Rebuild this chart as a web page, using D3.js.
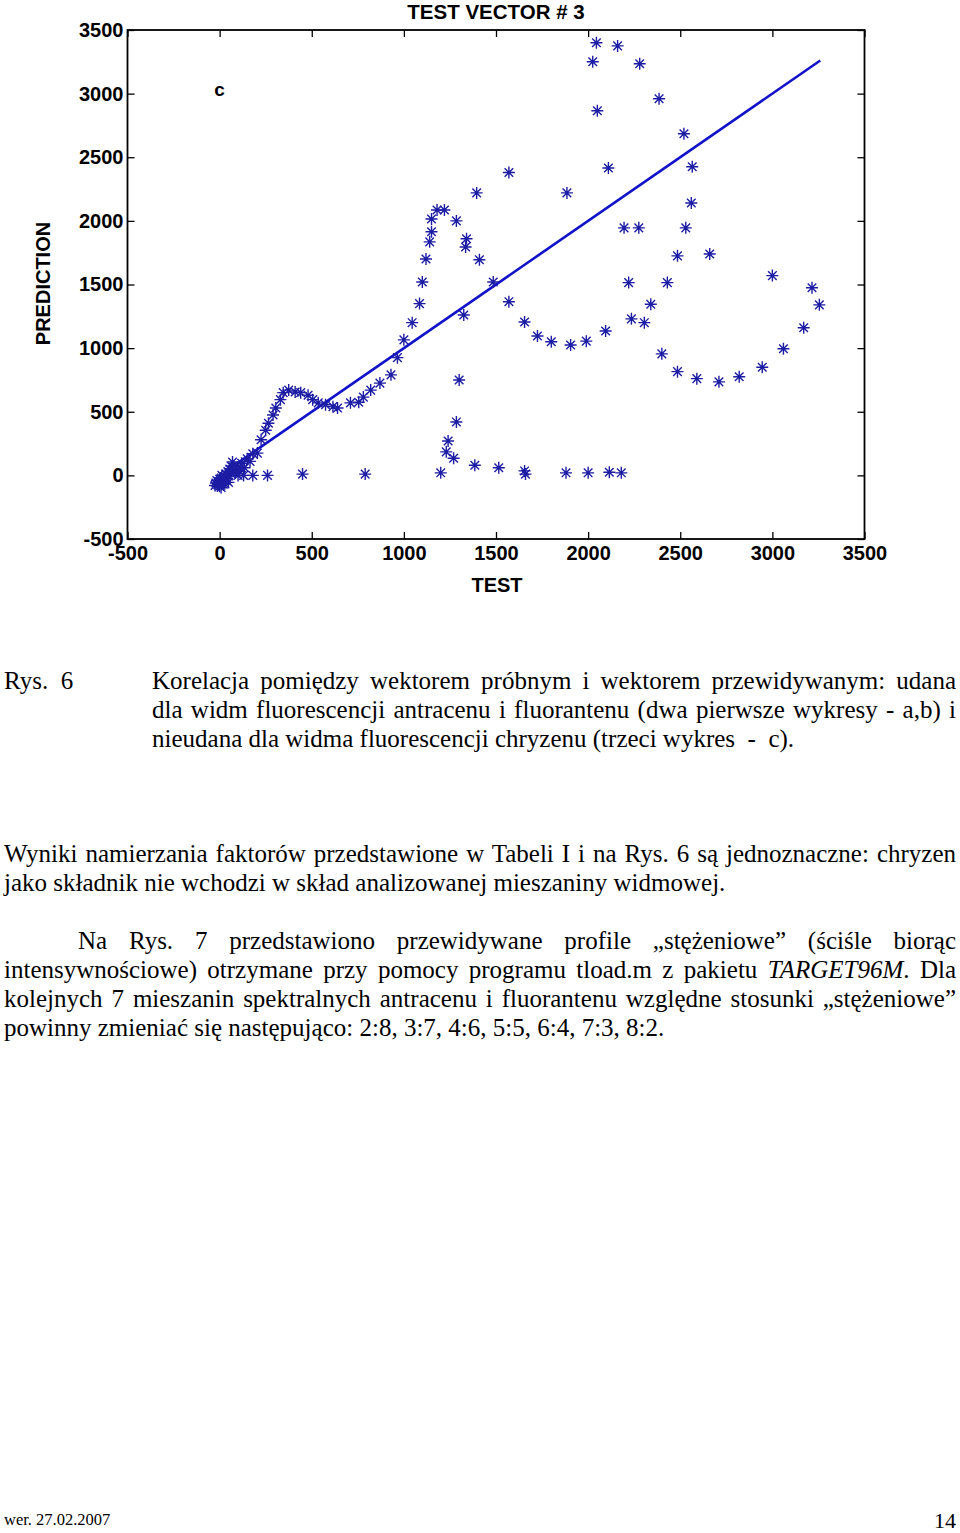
<!DOCTYPE html>
<html>
<head>
<meta charset="utf-8">
<script src="https://cdn.jsdelivr.net/npm/d3@7"></script>
<style>
  html, body { margin: 0; padding: 0; background: #fff; }
  svg { display: block; }
</style>
</head>
<body>
<svg id="page" width="960" height="1533"></svg>
<script>
// ---------------- DATA ----------------
const chartTitle = "TEST VECTOR # 3";
const xLabel = "TEST";
const yLabel = "PREDICTION";
const panelLetter = "c";
const xTicks = [-500, 0, 500, 1000, 1500, 2000, 2500, 3000, 3500];
const yTicks = [-500, 0, 500, 1000, 1500, 2000, 2500, 3000, 3500];
const axisDomain = [-500, 3500];
const identityLine = [30, 3260];

const testValues = [
  // cluster near origin
  -20, -15, -10, -5, 0, 0, 5, 10, 15, 20, 25, 30, 35, 40, 45, 50, 55, 60, 65, 70, 75, 85, 95, 103, 110, 120, 135, 150, 165, 180, -25, 8, 28, 48, 12,
  // bottom row
  100, 130, 180, 260, 450, 790, 1200, 1385, 1515, 1655, 1660, 1880, 2000, 2115, 2180,
  // L group
  1230, 1240, 1270, 1285, 1300,
  // rising branch / loop
  205, 225, 250, 265, 290, 305, 330, 345, 375, 410, 440, 480, 505, 535, 575, 615, 640, 710, 755, 780, 820, 870, 930, 965, 1000, 1045, 1085, 1100, 1120, 1140, 1150, 1150, 1180, 1220, 1285, 1340, 1335, 1410, 1485, 1570, 1655, 1725, 1800, 1905, 1990, 2095, 1325, 1395, 1570, 1885,
  // upper right
  2025, 2045, 2160, 2280, 2385, 2050, 2520, 2110, 2565, 2560, 2195, 2275, 2530, 2485, 2660, 2220, 2430, 2340, 2235, 2305, 2400, 2485, 2590, 2710, 2820, 2945, 3060, 3170, 3255, 3215, 3000
];
const predictionValues = [
  -60, -40, -75, -50, -30, -85, -60, -20, -45, -70, -10, -40, 10, -25, 30, -5, 50, 15, 70, 105, 40, 20, 55, 66, 30, 95, 60, 130, 110, 170, -80, -95, -65, -55, 0,
  0, 0, 0, 0, 10, 10, 20, 80, 60, 35, 10, 20, 20, 25, 20,
  185, 270, 135, 420, 750,
  175, 280, 355, 410, 475, 530, 595, 650, 670, 655, 650, 630, 595, 570, 555, 540, 530, 570, 575, 615, 670, 725, 790, 925, 1065, 1200, 1350, 1520, 1700, 1835, 1915, 2015, 2085, 2085, 2000, 1860, 1795, 1695, 1520, 1365, 1205, 1095, 1050, 1025, 1055, 1135, 1260, 2220, 2380, 2220,
  3250, 3400, 3375, 3235, 2960, 2865, 2685, 2415, 2425, 2140, 1945, 1945, 1945, 1725, 1740, 1515, 1515, 1345, 1230, 1200, 955, 815, 760, 735, 775, 850, 995, 1160, 1340, 1475, 1570
];

const captionLabel = "Rys.  6";
const captionLines = [
  "Korelacja pomiędzy wektorem próbnym i wektorem przewidywanym: udana",
  "dla widm fluorescencji antracenu i fluorantenu (dwa pierwsze wykresy - a,b) i",
  "nieudana dla widma fluorescencji chryzenu (trzeci wykres  -  c)."
];
const paragraph1 = [
  "Wyniki namierzania faktorów przedstawione w Tabeli I i na Rys. 6 są jednoznaczne: chryzen",
  "jako składnik nie wchodzi w skład analizowanej mieszaniny widmowej."
];
const paragraph2 = [
  ["Na  Rys.  7  przedstawiono  przewidywane  profile  „stężeniowe”  (ściśle  biorąc"],
  ["intensywnościowe) otrzymane przy pomocy programu tload.m z pakietu ", {i: "TARGET96M"}, ". Dla"],
  ["kolejnych 7 mieszanin spektralnych antracenu i fluorantenu względne stosunki „stężeniowe”"],
  ["powinny zmieniać się następująco: 2:8, 3:7, 4:6, 5:5, 6:4, 7:3, 8:2."]
];
const footerLeft = "wer. 27.02.2007";
const footerRight = "14";

// ---------------- CHART ----------------
const svg = d3.select("#page");
const L = 127.5, R = 864.5, T = 30, B = 539;
const x = d3.scaleLinear().domain(axisDomain).range([L, R]);
const y = d3.scaleLinear().domain(axisDomain).range([B, T]);
const sansFont = "'Liberation Sans', Arial, Helvetica, sans-serif";
const plainNum = v => String(v);

const g = svg.append("g");

// axes with inward ticks
const tickLen = 7;
const axL = g.append("g").attr("transform", `translate(${L},0)`)
  .call(d3.axisLeft(y).tickValues(yTicks).tickSize(-tickLen).tickPadding(4).tickFormat(plainNum));
const axB = g.append("g").attr("transform", `translate(0,${B})`)
  .call(d3.axisBottom(x).tickValues(xTicks).tickSize(-tickLen).tickPadding(7).tickFormat(plainNum));
const axT = g.append("g").attr("transform", `translate(0,${T})`)
  .call(d3.axisTop(x).tickValues(xTicks).tickSize(-tickLen).tickFormat(""));
const axR = g.append("g").attr("transform", `translate(${R},0)`)
  .call(d3.axisRight(y).tickValues(yTicks).tickSize(-tickLen).tickFormat(""));
[axL, axB, axT, axR].forEach(a => {
  a.select(".domain").remove();
  a.selectAll(".tick line").attr("stroke", "#000").attr("stroke-width", 1.3);
  a.selectAll(".tick text").attr("font-family", sansFont).attr("font-weight", "bold")
    .attr("font-size", 20).attr("fill", "#000");
});
axB.selectAll(".tick text").attr("dy", "0.71em");

// box
g.append("rect").attr("x", L).attr("y", T).attr("width", R - L).attr("height", B - T)
  .attr("fill", "none").attr("stroke", "#000").attr("stroke-width", 1.8);

// identity line
g.append("line")
  .attr("x1", x(identityLine[0])).attr("y1", y(identityLine[0]))
  .attr("x2", x(identityLine[1])).attr("y2", y(identityLine[1]))
  .attr("stroke", "#1212c8").attr("stroke-width", 2.6);

// star markers
const s = 6, d = 4.3;
const starPath = `M${-s},0H${s}M0,${-s}V${s}M${-d},${-d}L${d},${d}M${-d},${d}L${d},${-d}`;
const points = testValues.map((t, i) => ({t, p: predictionValues[i]}));
g.append("g").selectAll("path").data(points).join("path")
  .attr("transform", dd => `translate(${x(dd.t)},${y(dd.p)})`)
  .attr("d", starPath)
  .attr("fill", "none").attr("stroke", "#1c1ca4").attr("stroke-width", 1.4);

// titles
g.append("text").attr("x", (L + R) / 2).attr("y", 19).attr("text-anchor", "middle")
  .attr("font-family", sansFont).attr("font-weight", "bold").attr("font-size", 20.5).text(chartTitle);
g.append("text").attr("x", (L + R) / 2 + 1).attr("y", 592).attr("text-anchor", "middle")
  .attr("font-family", sansFont).attr("font-weight", "bold").attr("font-size", 20).text(xLabel);
g.append("text").attr("transform", `translate(50,${(T + B) / 2 - 1}) rotate(-90)`).attr("text-anchor", "middle")
  .attr("font-family", sansFont).attr("font-weight", "bold").attr("font-size", 20).text(yLabel);
g.append("text").attr("x", x(0)).attr("y", y(2980)).attr("text-anchor", "middle")
  .attr("font-family", sansFont).attr("font-weight", "bold").attr("font-size", 19).text(panelLetter);

// ---------------- TEXT ----------------
const serif = "'Liberation Serif', 'Times New Roman', serif";
const fs = 25;
function textLine(parts, x0, yb, xEnd) {
  const t = svg.append("text").attr("x", x0).attr("y", yb)
    .attr("font-family", serif).attr("font-size", fs).attr("fill", "#000")
    .style("white-space", "pre");
  (Array.isArray(parts) ? parts : [parts]).forEach(p => {
    if (typeof p === "string") t.append("tspan").text(p);
    else t.append("tspan").attr("font-style", "italic").text(p.i);
  });
  if (xEnd) {
    const full = (Array.isArray(parts) ? parts : [parts]).map(p => typeof p === "string" ? p : p.i).join("");
    const nSp = (full.match(/ /g) || []).length;
    const w = t.node().getComputedTextLength();
    if (nSp > 0) t.attr("word-spacing", (xEnd - x0 - w) / nSp);
  }
  return t;
}
textLine(captionLabel, 4, 689);
textLine(captionLines[0], 152, 689, 956);
textLine(captionLines[1], 152, 718, 956);
textLine(captionLines[2], 152, 747);

textLine(paragraph1[0], 4, 862, 956);
textLine(paragraph1[1], 4, 891);

textLine(paragraph2[0], 78, 949, 956);
textLine(paragraph2[1], 4, 978, 956);
textLine(paragraph2[2], 4, 1007, 956);
textLine(paragraph2[3], 4, 1036);

svg.append("text").attr("x", 4).attr("y", 1525).attr("font-family", serif).attr("font-size", 16.5).text(footerLeft);
svg.append("text").attr("x", 956).attr("y", 1528).attr("text-anchor", "end").attr("font-family", serif).attr("font-size", 22).text(footerRight);
</script>
</body>
</html>
